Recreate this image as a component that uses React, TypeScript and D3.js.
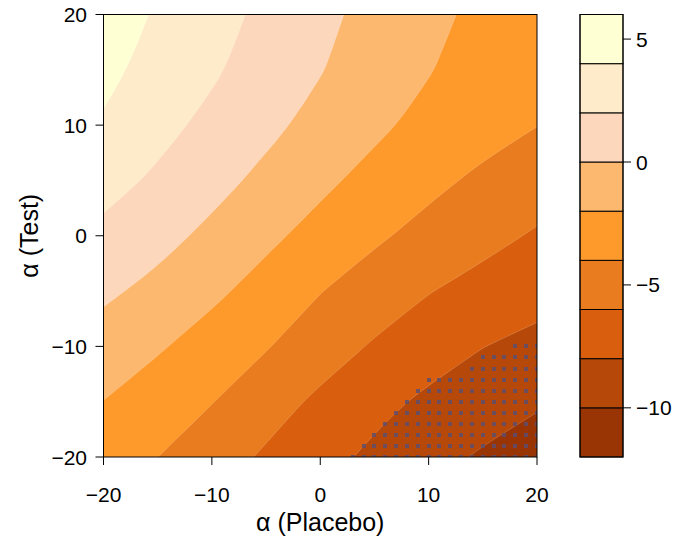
import React from 'react';
import * as d3 from 'd3';

// contour levels and fill colours (low -> high)
const levels = [-12, -10, -8, -6, -4, -2, 0, 2, 4, 6];
const bandColors = [
  '#993404',
  '#B6490A',
  '#D95F0E',
  '#E87C1E',
  '#FE9A2C',
  '#FDB86F',
  '#FDD7BC',
  '#FEEBCA',
  '#FFFFD4',
];

const xTicks = [-20, -10, 0, 10, 20];
const yTicks = [-20, -10, 0, 10, 20];
const keyTicks = [-10, -5, 0, 5];

// grid of values: columns = alpha (Placebo), rows = alpha (Test), top row first
const gridX = [-20, -15, -10, -5, 0, 5, 10, 15, 20];
const gridY = [20, 15, 10, 5, 0, -5, -10, -15, -20];
const zRows = [
  [4.93, 3.82, 2.7, 1.57, 0.45, -0.58, -1.56, -2.42, -3.0],
  [4.48, 3.38, 2.26, 1.17, 0.09, -0.91, -1.91, -2.75, -3.4],
  [3.8, 2.58, 1.52, 0.46, -0.59, -1.63, -2.52, -3.3, -3.97],
  [2.7, 1.69, 0.62, -0.47, -1.59, -2.6, -3.54, -4.37, -5.06],
  [1.52, 0.62, -0.44, -1.58, -2.67, -3.71, -4.6, -5.45, -6.2],
  [0.34, -0.52, -1.6, -2.74, -3.94, -4.94, -5.93, -6.63, -7.32],
  [-0.84, -1.8, -2.83, -3.88, -5.07, -6.2, -7.08, -7.97, -8.52],
  [-2.03, -2.95, -3.94, -5.19, -6.38, -7.44, -8.38, -9.07, -9.76],
  [-3.1, -3.99, -5.13, -6.26, -7.36, -8.4, -9.34, -10.23, -11.0],
];

// significance region: for each row, the first alpha (Placebo) that is marked (up to 20)
const sigY = [-10, -11, -12, -13, -14, -15, -16, -17, -18, -19, -20];
const sigXFrom = [18, 15, 14, 10, 9, 8, 7, 6, 5, 4, 3];

const FONT = '"Liberation Sans", Arial, Helvetica, sans-serif';

type Pt = [number, number];

const App: React.FC = () => {
  const width = 684;
  const height = 541;
  const plot = { left: 103.5, right: 537, top: 14.5, bottom: 457 };
  const key = { left: 580, right: 623 };

  const x = d3.scaleLinear().domain([-20, 20]).range([plot.left, plot.right]);
  const y = d3.scaleLinear().domain([-20, 20]).range([plot.bottom, plot.top]);
  const keyY = d3
    .scaleLinear()
    .domain([levels[0], levels[levels.length - 1]])
    .range([plot.bottom, plot.top]);

  // grid coords of d3.contours -> pixels (sample i sits at i + 0.5)
  const nx = gridX.length;
  const ny = gridY.length;
  const gx = d3
    .scaleLinear()
    .domain([0.5, nx - 0.5])
    .range([x(gridX[0]), x(gridX[nx - 1])]);
  const gy = d3
    .scaleLinear()
    .domain([0.5, ny - 0.5])
    .range([y(gridY[0]), y(gridY[ny - 1])]);

  const contours = d3
    .contours()
    .size([nx, ny])
    .thresholds(levels.slice(0, -1))(zRows.flat());

  // smooth only the part of each ring that lies inside the plot,
  // keep the straight pieces along / outside the frame
  const eps = 1e-9;
  const isIn = (p: Pt) =>
    p[0] > 0.5 + eps && p[0] < nx - 0.5 - eps && p[1] > 0.5 + eps && p[1] < ny - 0.5 - eps;
  const basisLine = d3
    .line<Pt>()
    .x((p) => gx(p[0]))
    .y((p) => gy(p[1]))
    .curve(d3.curveBasis);
  const closedLine = d3
    .line<Pt>()
    .x((p) => gx(p[0]))
    .y((p) => gy(p[1]))
    .curve(d3.curveBasisClosed);

  const ringPath = (ring: Pt[]) => {
    const pts = ring.slice(0, -1);
    const n = pts.length;
    const inside = pts.map(isIn);
    const start = inside.findIndex((v) => !v);
    if (start < 0) return closedLine(pts) || '';
    const at = (k: number) => pts[(start + k) % n];
    let d = `M${gx(at(0)[0])},${gy(at(0)[1])}`;
    let k = 0;
    while (k < n) {
      if (inside[(start + k + 1) % n]) {
        const run: Pt[] = [at(k)];
        let m = k + 1;
        while (inside[(start + m) % n]) {
          run.push(at(m));
          m++;
        }
        run.push(at(m));
        const s = basisLine(run) || '';
        d += s.slice(s.search(/[LC]/));
        k = m;
      } else {
        const p = at(k + 1);
        d += `L${gx(p[0])},${gy(p[1])}`;
        k++;
      }
    }
    return d + 'Z';
  };

  const multiPath = (c: d3.ContourMultiPolygon) =>
    c.coordinates.flatMap((poly) => poly.map((ring) => ringPath(ring as Pt[]))).join(' ');

  // marked points
  const dots: { x: number; y: number }[] = [];
  sigY.forEach((yy, i) => {
    for (let xx = sigXFrom[i]; xx <= 20; xx++) dots.push({ x: xx, y: yy });
  });
  const dotSize = 4;

  const minus = (v: number) => (v < 0 ? `\u2212${Math.abs(v)}` : `${v}`);

  return (
    <svg
      width={width}
      height={height}
      style={{ position: 'absolute', left: 0, top: 0, background: '#fff' }}
      fontFamily={FONT}
    >
      <defs>
        <clipPath id="plotClip">
          <rect
            x={plot.left}
            y={plot.top}
            width={plot.right - plot.left}
            height={plot.bottom - plot.top}
          />
        </clipPath>
      </defs>

      {/* Filled contours (with the faint light seam R leaves along each boundary) */}
      <g clipPath="url(#plotClip)">
        {contours.map((c, i) => (
          <path
            key={i}
            d={multiPath(c)}
            fill={bandColors[i]}
            stroke="#fff"
            strokeOpacity={0.22}
            strokeWidth={0.8}
          />
        ))}
        {dots.map((d, i) => (
          <rect
            key={i}
            x={Math.round(x(d.x) - dotSize / 2)}
            y={Math.round(y(d.y) - dotSize / 2)}
            width={dotSize}
            height={dotSize}
            fill="#5B4E72"
            fillOpacity={0.82}
            shapeRendering="crispEdges"
          />
        ))}
      </g>
      <rect
        x={plot.left}
        y={plot.top}
        width={plot.right - plot.left}
        height={plot.bottom - plot.top}
        fill="none"
        stroke="#000"
        strokeWidth={1}
      />

      {/* X axis */}
      {xTicks.map((t) => (
        <g key={t}>
          <line x1={x(t)} x2={x(t)} y1={plot.bottom} y2={plot.bottom + 8} stroke="#000" />
          <text x={x(t)} y={502} textAnchor="middle" fontSize={21}>
            {minus(t)}
          </text>
        </g>
      ))}
      <text x={(plot.left + plot.right) / 2} y={531} textAnchor="middle" fontSize={25}>
        α (Placebo)
      </text>

      {/* Y axis */}
      {yTicks.map((t) => (
        <g key={t}>
          <line x1={plot.left - 8} x2={plot.left} y1={y(t)} y2={y(t)} stroke="#000" />
          <text x={87} y={y(t)} dy="0.36em" textAnchor="end" fontSize={21}>
            {minus(t)}
          </text>
        </g>
      ))}
      <text
        transform={`translate(38,${(plot.top + plot.bottom) / 2}) rotate(-90)`}
        textAnchor="middle"
        fontSize={25}
      >
        α (Test)
      </text>

      {/* Colour key */}
      {bandColors.map((col, i) => (
        <rect
          key={i}
          x={key.left}
          y={keyY(levels[i + 1])}
          width={key.right - key.left}
          height={keyY(levels[i]) - keyY(levels[i + 1])}
          fill={col}
          stroke="#000"
          strokeWidth={1}
        />
      ))}
      <rect
        x={key.left}
        y={plot.top}
        width={key.right - key.left}
        height={plot.bottom - plot.top}
        fill="none"
        stroke="#000"
      />
      {keyTicks.map((t) => (
        <g key={t}>
          <line x1={key.right} x2={key.right + 8} y1={keyY(t)} y2={keyY(t)} stroke="#000" />
          <text x={key.right + 13} y={keyY(t)} dy="0.36em" textAnchor="start" fontSize={21}>
            {minus(t)}
          </text>
        </g>
      ))}
    </svg>
  );
};

export default App;
